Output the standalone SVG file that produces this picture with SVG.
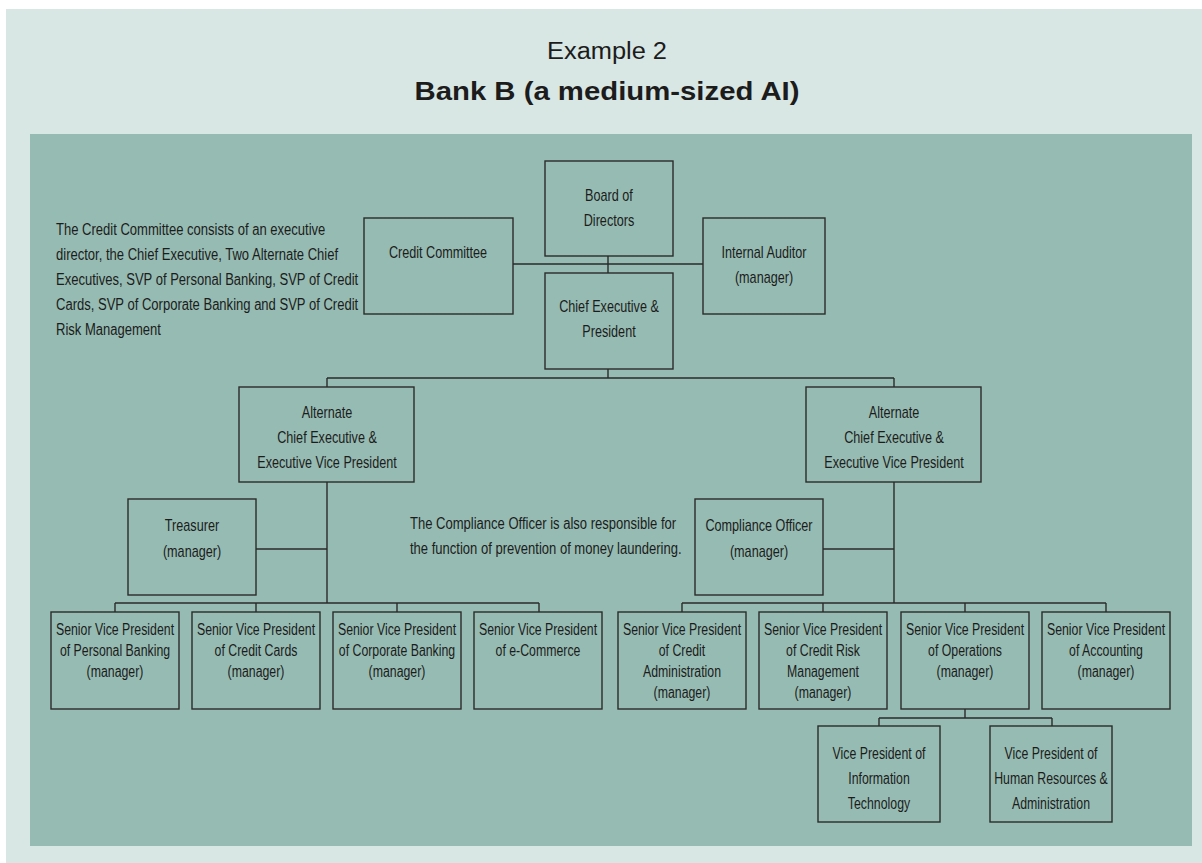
<svg xmlns="http://www.w3.org/2000/svg" width="1202" height="863" viewBox="0 0 1202 863">
<style>
.bx{fill:none;stroke:#2b2b2b;stroke-width:1.4}
.cn{fill:none;stroke:#2b2b2b;stroke-width:1.4}
text{font-family:"Liberation Sans",Arial,sans-serif;font-size:16px;fill:#1c1c1c}
.c{text-anchor:middle}
.t1{font-size:23px}
.t2{font-size:25px;font-weight:bold}
</style>
<rect x="0" y="0" width="1202" height="863" fill="#ffffff"/>
<rect x="6" y="9" width="1196" height="854" fill="#d8e7e4"/>
<rect x="30" y="134" width="1162" height="712" fill="#96bbb2"/>
<text class="t1 c" x="607" y="59" textLength="120" lengthAdjust="spacingAndGlyphs">Example 2</text>
<text class="t2 c" x="607" y="100" textLength="385" lengthAdjust="spacingAndGlyphs">Bank B (a medium-sized AI)</text>

<g id="connectors">
<path class="cn" d="M608 256V273M513 264H703"/>
<path class="cn" d="M608 369V378M327 378H894M327 378V387M894 378V387"/>
<path class="cn" d="M327 482V603M256 549H327M115 603H539M115 603V612M256 603V612M397 603V612M539 603V612"/>
<path class="cn" d="M894 482V603M823 549H894M682 603H1106M682 603V612M823 603V612M965 603V612M1106 603V612"/>
<path class="cn" d="M965 709V718M879 718H1052M879 718V726M1052 718V726"/>
</g>

<g id="note-credit"><g transform="translate(56 0) scale(0.815 1)">
<text x="0" y="235">The Credit Committee consists of an executive</text>
<text x="0" y="260">director, the Chief Executive, Two Alternate Chief</text>
<text x="0" y="285">Executives, SVP of Personal Banking, SVP of Credit</text>
<text x="0" y="310">Cards, SVP of Corporate Banking and SVP of Credit</text>
<text x="0" y="335">Risk Management</text>
</g></g>
<g id="note-compliance"><g transform="translate(410 0) scale(0.815 1)">
<text x="0" y="529">The Compliance Officer is also responsible for</text>
<text x="0" y="554">the function of prevention of money laundering.</text>
</g></g>

<g id="board"><rect class="bx" x="545" y="161" width="128" height="95"/>
<g transform="translate(609 0) scale(0.79 1)"><text class="c" x="0" y="201">Board of</text><text class="c" x="0" y="226">Directors</text></g></g>
<g id="credit-committee"><rect class="bx" x="364" y="218" width="149" height="96"/>
<g transform="translate(438 0) scale(0.79 1)"><text class="c" x="0" y="258">Credit Committee</text></g></g>
<g id="internal-auditor"><rect class="bx" x="703" y="218" width="122" height="96"/>
<g transform="translate(764 0) scale(0.79 1)"><text class="c" x="0" y="258">Internal Auditor</text><text class="c" x="0" y="283">(manager)</text></g></g>
<g id="ceo"><rect class="bx" x="545" y="273" width="128" height="96"/>
<g transform="translate(609 0) scale(0.79 1)"><text class="c" x="0" y="312">Chief Executive &amp;</text><text class="c" x="0" y="337">President</text></g></g>
<g id="alt-ce-left"><rect class="bx" x="239" y="387" width="175" height="95"/>
<g transform="translate(327 0) scale(0.79 1)"><text class="c" x="0" y="418">Alternate</text><text class="c" x="0" y="443">Chief Executive &amp;</text><text class="c" x="0" y="468">Executive Vice President</text></g></g>
<g id="alt-ce-right"><rect class="bx" x="806" y="387" width="175" height="95"/>
<g transform="translate(894 0) scale(0.79 1)"><text class="c" x="0" y="418">Alternate</text><text class="c" x="0" y="443">Chief Executive &amp;</text><text class="c" x="0" y="468">Executive Vice President</text></g></g>
<g id="treasurer"><rect class="bx" x="128" y="499" width="128" height="96"/>
<g transform="translate(192 0) scale(0.79 1)"><text class="c" x="0" y="531">Treasurer</text><text class="c" x="0" y="557">(manager)</text></g></g>
<g id="compliance"><rect class="bx" x="695" y="499" width="128" height="96"/>
<g transform="translate(759 0) scale(0.79 1)"><text class="c" x="0" y="531">Compliance Officer</text><text class="c" x="0" y="557">(manager)</text></g></g>

<g id="svp-personal"><rect class="bx" x="51" y="612" width="128" height="97"/>
<g transform="translate(115 0) scale(0.77 1)"><text class="c" x="0" y="635">Senior Vice President</text><text class="c" x="0" y="656">of Personal Banking</text><text class="c" x="0" y="677">(manager)</text></g></g>
<g id="svp-cards"><rect class="bx" x="192" y="612" width="128" height="97"/>
<g transform="translate(256 0) scale(0.77 1)"><text class="c" x="0" y="635">Senior Vice President</text><text class="c" x="0" y="656">of Credit Cards</text><text class="c" x="0" y="677">(manager)</text></g></g>
<g id="svp-corporate"><rect class="bx" x="333" y="612" width="128" height="97"/>
<g transform="translate(397 0) scale(0.77 1)"><text class="c" x="0" y="635">Senior Vice President</text><text class="c" x="0" y="656">of Corporate Banking</text><text class="c" x="0" y="677">(manager)</text></g></g>
<g id="svp-ecommerce"><rect class="bx" x="474" y="612" width="128" height="97"/>
<g transform="translate(538 0) scale(0.77 1)"><text class="c" x="0" y="635">Senior Vice President</text><text class="c" x="0" y="656">of e-Commerce</text></g></g>
<g id="svp-credit-admin"><rect class="bx" x="618" y="612" width="128" height="97"/>
<g transform="translate(682 0) scale(0.77 1)"><text class="c" x="0" y="635">Senior Vice President</text><text class="c" x="0" y="656">of Credit</text><text class="c" x="0" y="677">Administration</text><text class="c" x="0" y="698">(manager)</text></g></g>
<g id="svp-credit-risk"><rect class="bx" x="759" y="612" width="128" height="97"/>
<g transform="translate(823 0) scale(0.77 1)"><text class="c" x="0" y="635">Senior Vice President</text><text class="c" x="0" y="656">of Credit Risk</text><text class="c" x="0" y="677">Management</text><text class="c" x="0" y="698">(manager)</text></g></g>
<g id="svp-operations"><rect class="bx" x="901" y="612" width="128" height="97"/>
<g transform="translate(965 0) scale(0.77 1)"><text class="c" x="0" y="635">Senior Vice President</text><text class="c" x="0" y="656">of Operations</text><text class="c" x="0" y="677">(manager)</text></g></g>
<g id="svp-accounting"><rect class="bx" x="1042" y="612" width="128" height="97"/>
<g transform="translate(1106 0) scale(0.77 1)"><text class="c" x="0" y="635">Senior Vice President</text><text class="c" x="0" y="656">of Accounting</text><text class="c" x="0" y="677">(manager)</text></g></g>

<g id="vp-it"><rect class="bx" x="818" y="726" width="122" height="96"/>
<g transform="translate(879 0) scale(0.77 1)"><text class="c" x="0" y="759">Vice President of</text><text class="c" x="0" y="784">Information</text><text class="c" x="0" y="809">Technology</text></g></g>
<g id="vp-hr"><rect class="bx" x="990" y="726" width="122" height="96"/>
<g transform="translate(1051 0) scale(0.77 1)"><text class="c" x="0" y="759">Vice President of</text><text class="c" x="0" y="784">Human Resources &amp;</text><text class="c" x="0" y="809">Administration</text></g></g>
</svg>
